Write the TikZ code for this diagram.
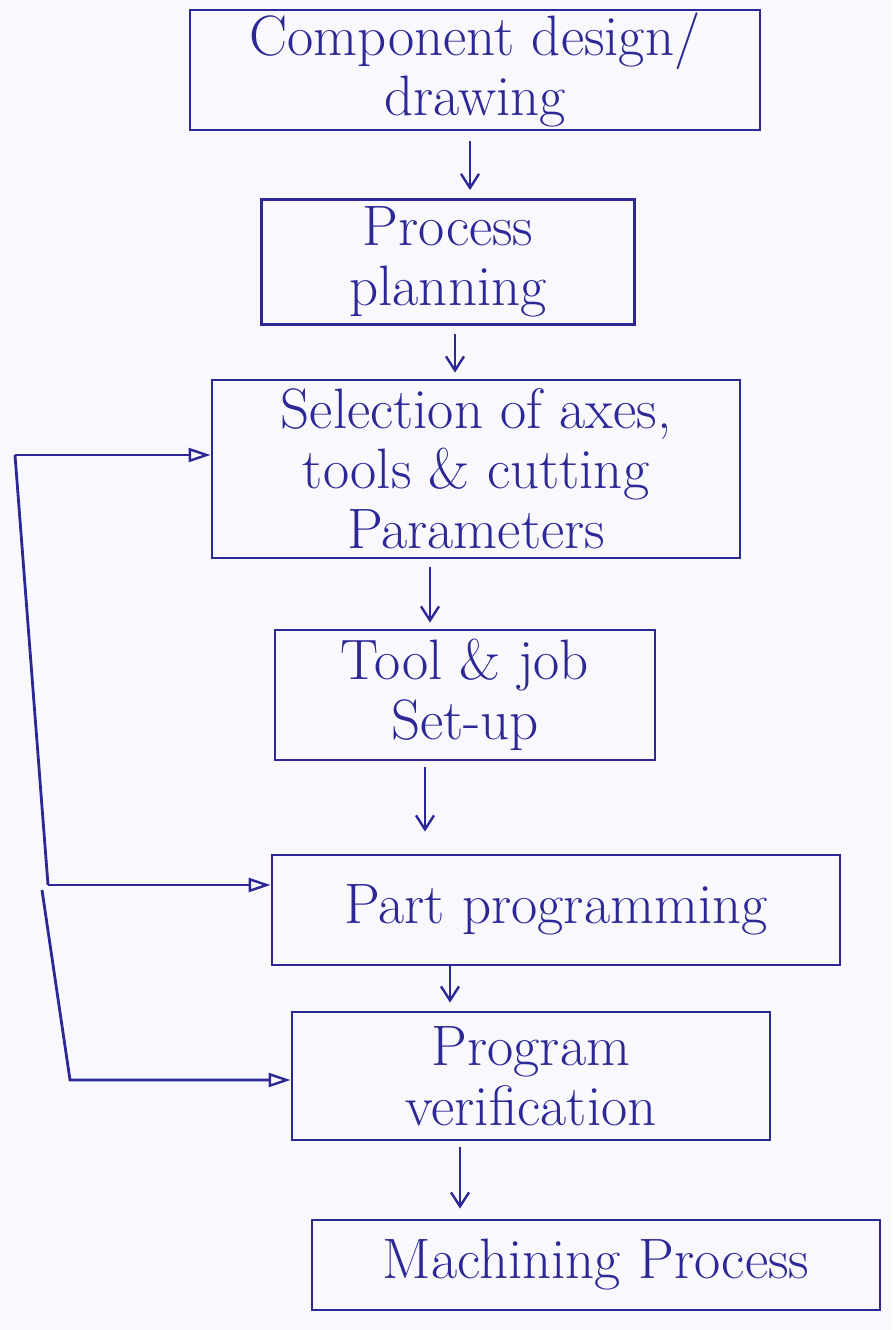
\documentclass[tikz,border=0pt]{standalone}
\usepackage{fontspec}
\usetikzlibrary{arrows.meta,calc}
\definecolor{ink}{RGB}{44,40,150}
\definecolor{paper}{RGB}{249,249,253}
\begin{document}
\begin{tikzpicture}[x=1pt,y=-1pt,
  stage/.style={draw=ink, line width=2.8pt, text=ink, align=center,
    inner sep=0pt, font=\fontsize{57}{60}\selectfont},
  flow/.style={draw=ink, line width=2.8pt, -{Straight Barb[length=14pt,width=18pt,line width=2.4pt]}},
  feed/.style={draw=ink, line width=2.8pt, -{Triangle[open,length=22pt,width=14pt,line width=2.4pt]}}]
\fill[paper] (0,0) rectangle (892,1330);
\useasboundingbox (0,0) rectangle (892,1330);

% process stages
\node[stage, minimum width=570pt, minimum height=120pt] (b1) at (475,70)
  {Component design/\\drawing};
\node[stage, minimum width=373pt, minimum height=125pt] (b2) at (448,262)
  {Process\\planning};
\node[stage, minimum width=528pt, minimum height=178pt] (b3) at (476,469)
  {Selection of axes,\\tools \& cutting\\Parameters};
\node[stage, minimum width=380pt, minimum height=130pt] (b4) at (465,695)
  {Tool \& job\\Set-up};
\node[stage, minimum width=568pt, minimum height=110pt] (b5) at (556,910)
  {Part programming};
\node[stage, minimum width=478pt, minimum height=128pt] (b6) at (531,1076)
  {Program\\verification};
\node[stage, minimum width=568pt, minimum height=90pt] (b7) at (596,1265)
  {Machining Process};

% x positions of the downward arrows
\coordinate (x1) at (470,0);
\coordinate (x2) at (455,0);
\coordinate (x3) at (430,0);
\coordinate (x4) at (425,0);
\coordinate (x5) at (450,0);
\coordinate (x6) at (460,0);

\draw[flow, shorten <=10pt, shorten >=8pt] (b1.south -| x1) -- (b2.north -| x1);
\draw[flow, shorten <=8pt, shorten >=6pt] (b2.south -| x2) -- (b3.north -| x2);
\draw[flow, shorten <=8pt, shorten >=6pt] (b3.south -| x3) -- (b4.north -| x3);
\draw[flow, shorten <=6pt, shorten >=22pt] (b4.south -| x4) -- (b5.north -| x4);
\draw[flow, shorten <=0pt, shorten >=8pt] (b5.south -| x5) -- (b6.north -| x5);
\draw[flow, shorten <=6pt, shorten >=10pt] (b6.south -| x6) -- (b7.north -| x6);

% feedback lines on the left
\coordinate (L1) at (15,455);
\coordinate (L2) at (48,885);
\coordinate (L3) at (42,890);
\coordinate (L4) at (70,1080);

\draw[draw=ink, line width=2.8pt] (L2) -- (L1);
\draw[feed] (L1) -- (b3.west |- L1);
\draw[feed] (L2) -- (b5.west |- L2);
\draw[feed] (L3) -- (L4) -- (b6.west |- L4);
\end{tikzpicture}
\end{document}
